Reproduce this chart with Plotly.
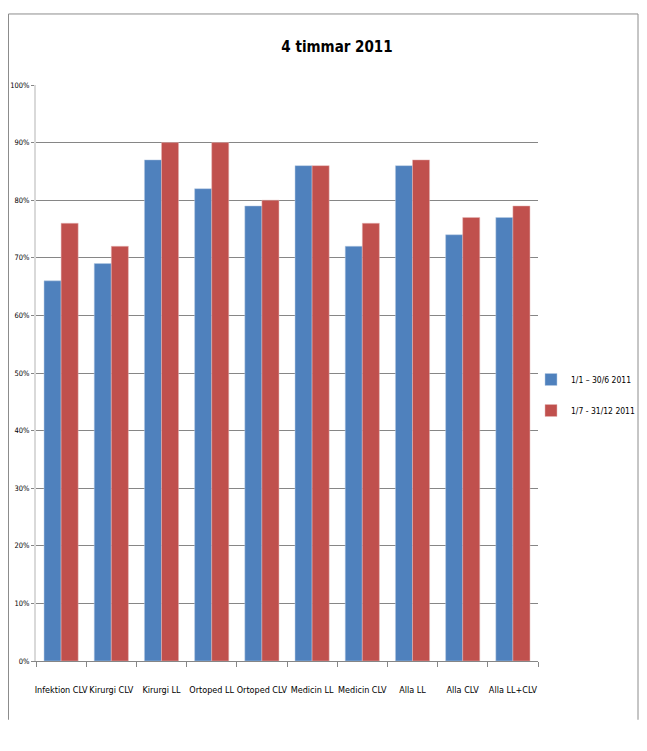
import plotly.graph_objects as go

categories = ["Infektion CLV", "Kirurgi CLV", "Kirurgi LL", "Ortoped LL", "Ortoped CLV",
              "Medicin LL", "Medicin CLV", "Alla LL", "Alla CLV", "Alla LL+CLV"]
series1_name = "1/1 \u2013 30/6 2011"
series1 = [0.66, 0.69, 0.87, 0.82, 0.79, 0.86, 0.72, 0.86, 0.74, 0.77]
series2_name = "1/7 - 31/12 2011"
series2 = [0.76, 0.72, 0.90, 0.90, 0.80, 0.86, 0.76, 0.87, 0.77, 0.79]
y_ticks = [0, 0.1, 0.2, 0.3, 0.4, 0.5, 0.6, 0.7, 0.8, 0.9, 1.0]

FONT = "DejaVu Sans Condensed, Liberation Sans Narrow, sans-serif"

# the page body has an 8px margin; size the figure so it fits the 647x751 window without scrollbars
W, H = 631, 735
OFF = 8
L, R = 28, 101

fig = go.Figure()
fig.add_trace(go.Bar(x=categories, y=series1, name=series1_name, legendgroup="a",
                     marker=dict(color="#4F81BD", line=dict(color="#B9CDE5", width=0.5))))
fig.add_trace(go.Bar(x=categories, y=series2, name=series2_name, legendgroup="b",
                     marker=dict(color="#C0504D", line=dict(color="#E6B9B8", width=0.5))))

fig.update_layout(
    width=W, height=H,
    margin=dict(l=L, r=R, t=77, b=82, autoexpand=False),
    paper_bgcolor="white", plot_bgcolor="white",
    barmode="group", bargap=0.32, bargroupgap=0,
    title=dict(text="<b>4 timmar 2011</b>", x=(337 - OFF) / W, xanchor="center",
               y=1 - (47 - OFF) / H, yanchor="middle",
               font=dict(family=FONT, size=15, color="black")),
    font=dict(family=FONT, size=10, color="black"),
    legend=dict(xref="container", yref="container", x=(531 - OFF) / W, xanchor="left",
                y=1 - (395 - OFF) / H, yanchor="middle",
                font=dict(family=FONT, size=8.5, color="black"),
                itemwidth=30, tracegroupgap=12, bgcolor="rgba(0,0,0,0)"),
    showlegend=True,
)
fig.update_yaxes(range=[0, 1.0], tickvals=y_ticks, tickformat=".0%", automargin=False,
                 showgrid=True, gridcolor="#868686", gridwidth=1,
                 showline=True, linecolor="#D9D9D9", linewidth=2,
                 ticks="outside", ticklen=3, tickcolor="#868686",
                 zeroline=False, tickfont=dict(family=FONT, size=7.5))
fig.update_xaxes(showline=True, linecolor="#868686", linewidth=1, automargin=False,
                 ticks="outside", tickson="boundaries", ticklen=5, tickcolor="#868686",
                 ticklabelstandoff=20,
                 tickfont=dict(family=FONT, size=9), tickangle=0)

# chart-area border (Excel-style frame)
pw = W - L - R
xl, xr = (0.5 - L) / pw, (630 - L) / pw
yt, yb = 1.1233, -0.102
fig.add_shape(type="line", xref="paper", yref="paper", x0=xl, x1=xr, y0=yt, y1=yt,
              line=dict(color="#8C8C8C", width=1))
fig.add_shape(type="line", xref="paper", yref="paper", x0=xl, x1=xl, y0=yt, y1=yb,
              line=dict(color="#8C8C8C", width=1))
fig.add_shape(type="line", xref="paper", yref="paper", x0=xr, x1=xr, y0=yt, y1=yb,
              line=dict(color="#8C8C8C", width=1))

fig.write_html("out.html")
